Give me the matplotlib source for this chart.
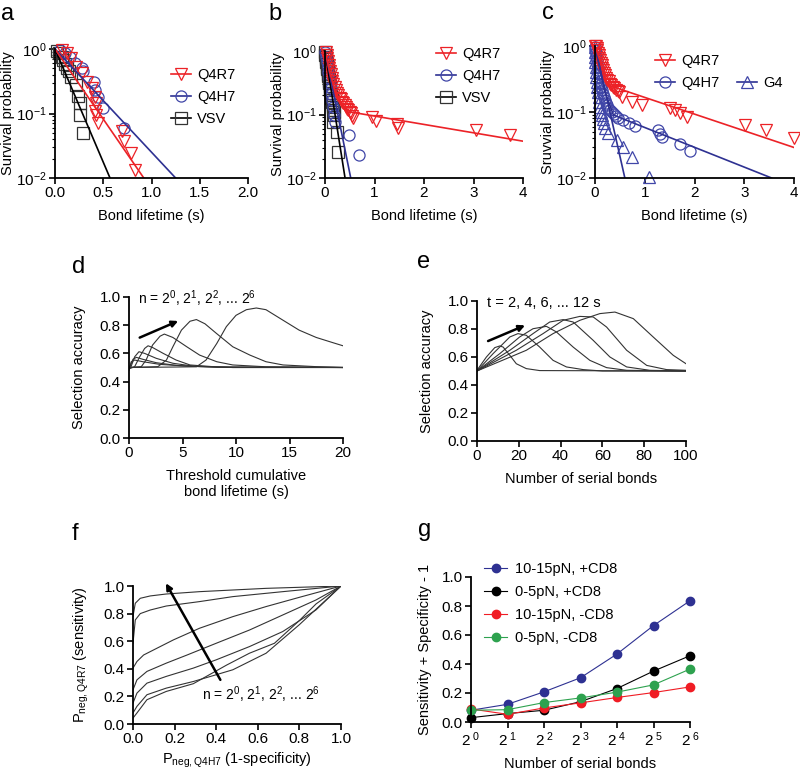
import matplotlib
matplotlib.use("Agg")
import matplotlib.pyplot as plt
import numpy as np
from matplotlib.lines import Line2D

plt.rcParams["font.family"] = ["Liberation Sans", "DejaVu Sans"]
plt.rcParams["mathtext.fontset"] = "custom"
plt.rcParams["mathtext.rm"] = "Liberation Sans"
plt.rcParams["mathtext.it"] = "Liberation Sans:italic"
plt.rcParams["mathtext.bf"] = "Liberation Sans:bold"
plt.rcParams["font.size"] = 10.5
plt.rcParams["xtick.labelsize"] = 11
plt.rcParams["ytick.labelsize"] = 11
plt.rcParams["axes.linewidth"] = 1.3
plt.rcParams["xtick.major.width"] = 1.2
plt.rcParams["ytick.major.width"] = 1.2
plt.rcParams["xtick.major.size"] = 4
plt.rcParams["ytick.major.size"] = 4
plt.rcParams["ytick.minor.size"] = 2.5
plt.rcParams["ytick.minor.width"] = 0.8

RED = "#ec2227"
BLUE = "#2e3192"
BLUE_M = "#4046a8"
GREEN = "#2ea24f"

# ---------------- panel a: survival probability ----------------
a_r7_t = [0.07, 0.12, 0.17, 0.22, 0.28, 0.33, 0.38, 0.41, 0.43, 0.41, 0.43, 0.45, 0.69, 0.72, 0.79, 0.83]
a_r7_p = [0.96, 0.86, 0.72, 0.53, 0.42, 0.31, 0.25, 0.18, 0.145, 0.11, 0.095, 0.07, 0.053, 0.037, 0.024, 0.0135]
a_h7_t = [0.05, 0.10, 0.155, 0.21, 0.28, 0.29, 0.40, 0.41, 0.45, 0.50, 0.71]
a_h7_p = [0.96, 0.88, 0.76, 0.60, 0.50, 0.45, 0.31, 0.23, 0.18, 0.12, 0.059]
a_vsv_t = [0.02, 0.045, 0.07, 0.085, 0.10, 0.12, 0.14, 0.17, 0.22, 0.24, 0.26, 0.26, 0.29]
a_vsv_p = [0.94, 0.86, 0.76, 0.68, 0.59, 0.50, 0.45, 0.37, 0.28, 0.19, 0.145, 0.096, 0.05]
a_fit_r7 = ([0.0, 0.92], [1.0, 0.01])
a_fit_h7 = ([0.0, 1.25], [1.0, 0.01])
a_fit_vsv = ([0.0, 0.57], [1.0, 0.01])

# ---------------- panel b ----------------
b_r7_t = [0.02, 0.035, 0.047, 0.06, 0.074, 0.087, 0.10, 0.118, 0.135, 0.15, 0.169, 0.195, 0.223,
          0.245, 0.27, 0.295, 0.318, 0.345, 0.37, 0.40, 0.426, 0.45, 0.473, 0.50, 0.52, 0.55, 0.574,
          0.94, 1.04, 1.45, 1.48, 3.06, 3.73]
b_r7_p = [0.966, 0.86, 0.77, 0.69, 0.61, 0.54, 0.48, 0.43, 0.38, 0.34, 0.30, 0.27, 0.24,
          0.22, 0.20, 0.185, 0.173, 0.16, 0.15, 0.14, 0.13, 0.122, 0.116, 0.11, 0.104, 0.096, 0.089,
          0.090, 0.078, 0.071, 0.062, 0.056, 0.047]
b_h7_t = [0.01, 0.025, 0.04, 0.055, 0.07, 0.085, 0.10, 0.115, 0.13, 0.15, 0.17, 0.19, 0.20, 0.49, 0.68]
b_h7_p = [0.95, 0.80, 0.66, 0.55, 0.46, 0.38, 0.31, 0.26, 0.21, 0.17, 0.13, 0.10, 0.075, 0.047, 0.023]
b_vsv_t = [0.0, 0.007, 0.0135, 0.02, 0.027, 0.034, 0.041, 0.047, 0.054, 0.061, 0.068, 0.075, 0.081,
           0.088, 0.095, 0.10, 0.108, 0.115, 0.122, 0.128, 0.135, 0.145, 0.155, 0.162, 0.169, 0.176,
           0.182, 0.169, 0.236, 0.27]
b_vsv_p = [0.966, 0.88, 0.81, 0.74, 0.68, 0.62, 0.57, 0.52, 0.48, 0.44, 0.40, 0.37, 0.34,
           0.31, 0.285, 0.26, 0.24, 0.22, 0.20, 0.185, 0.169, 0.155, 0.142, 0.13, 0.119, 0.11,
           0.10, 0.075, 0.053, 0.026]
b_fit_r7 = ([0.0, 0.1, 0.2, 0.35, 0.5, 4.0], [1.0, 0.45, 0.24, 0.14, 0.11, 0.038])
b_fit_h7 = ([0.0, 0.52], [1.0, 0.01])
b_fit_vsv = ([0.0, 0.405], [1.0, 0.01])

# ---------------- panel c ----------------
c_r7_t = [0.0, 0.02, 0.033, 0.047, 0.06, 0.074, 0.087, 0.10, 0.117, 0.134, 0.15, 0.168, 0.185,
          0.20, 0.225, 0.248, 0.275, 0.30, 0.33, 0.356, 0.39, 0.42, 0.455, 0.49,
          0.536, 0.74, 0.94, 1.51, 1.61, 1.71, 1.85, 3.02, 3.43, 4.0]
c_r7_p = [1.0, 0.99, 0.92, 0.86, 0.79, 0.72, 0.66, 0.61, 0.56, 0.51, 0.47, 0.43, 0.39,
          0.36, 0.33, 0.31, 0.29, 0.27, 0.255, 0.24, 0.228, 0.218, 0.208, 0.20,
          0.169, 0.142, 0.126, 0.116, 0.106, 0.097, 0.085, 0.063, 0.053, 0.040]
c_h7_t = [0.0, 0.01, 0.02, 0.03, 0.04, 0.05, 0.06, 0.07, 0.08, 0.09, 0.10, 0.114, 0.128, 0.14,
          0.154, 0.175, 0.195, 0.215, 0.235, 0.265, 0.30, 0.34, 0.38, 0.42, 0.47, 0.57, 0.69, 0.81,
          1.27, 1.31, 1.34, 1.71, 1.91]
c_h7_p = [0.966, 0.87, 0.77, 0.69, 0.61, 0.54, 0.48, 0.43, 0.38, 0.34, 0.30, 0.27, 0.24, 0.215,
          0.19, 0.17, 0.15, 0.137, 0.126, 0.115, 0.106, 0.099, 0.092, 0.087, 0.082, 0.075, 0.067, 0.061,
          0.053, 0.046, 0.042, 0.033, 0.026]
c_g4_t = [0.0, 0.0, 0.003, 0.007, 0.013, 0.02, 0.03, 0.04, 0.05, 0.06, 0.073, 0.087, 0.10, 0.114,
          0.134, 0.154, 0.175, 0.20, 0.27, 0.44, 0.57, 0.74, 1.08]
c_g4_p = [0.966, 0.80, 0.68, 0.57, 0.48, 0.40, 0.34, 0.285, 0.24, 0.20, 0.169, 0.14, 0.119, 0.10,
          0.089, 0.077, 0.067, 0.058, 0.048, 0.038, 0.029, 0.021, 0.0105]
c_fit_r7 = ([0.0, 0.1, 0.2, 0.37, 4.0], [1.0, 0.6, 0.38, 0.24, 0.029])
c_fit_h7 = ([0.0, 0.1, 0.2, 0.37, 3.55], [1.0, 0.45, 0.2, 0.09, 0.01])
c_fit_g4 = ([0.0, 0.6], [1.0, 0.01])

# ---------------- panel d: accuracy vs threshold lifetime, n = 1..64 ----------------
d_t = [
    [0.0, 0.2, 0.53, 1.3, 2.9, 5.4, 8.2, 20],
    [0.03, 0.37, 0.69, 1.3, 2.55, 4.4, 6.6, 9.7, 20],
    [0.16, 0.53, 0.93, 1.46, 2.55, 4.1, 6.0, 9.7, 20],
    [0.0, 0.53, 1.0, 1.46, 1.78, 2.2, 3.2, 4.4, 5.7, 8.2, 20],
    [0.0, 1.15, 1.6, 2.2, 2.9, 3.3, 4.1, 5.4, 6.6, 8.2, 9.7, 12.8, 20],
    [0.0, 2.7, 3.5, 4.1, 4.9, 5.7, 6.3, 7.1, 8.2, 9.7, 11.3, 12.8, 14.4, 17.5, 20],
    [0.0, 6.3, 7.2, 8.2, 9.1, 10.0, 10.97, 11.9, 12.8, 14.4, 15.9, 17.5, 19.1, 20],
]
d_acc = [
    [0.48, 0.54, 0.553, 0.541, 0.522, 0.51, 0.503, 0.5],
    [0.494, 0.558, 0.572, 0.558, 0.534, 0.515, 0.506, 0.5, 0.5],
    [0.5, 0.576, 0.612, 0.6, 0.565, 0.53, 0.51, 0.5, 0.5],
    [0.49, 0.506, 0.576, 0.635, 0.654, 0.642, 0.6, 0.553, 0.518, 0.504, 0.5],
    [0.5, 0.506, 0.553, 0.659, 0.722, 0.737, 0.713, 0.647, 0.588, 0.541, 0.518, 0.505, 0.5],
    [0.5, 0.506, 0.553, 0.647, 0.765, 0.828, 0.84, 0.81, 0.74, 0.647, 0.588, 0.541, 0.518, 0.506, 0.5],
    [0.5, 0.505, 0.553, 0.67, 0.79, 0.87, 0.91, 0.922, 0.91, 0.835, 0.765, 0.713, 0.675, 0.654],
]

# ---------------- panel e: accuracy vs number of serial bonds, t = 2..12 s ----------------
e_n = [
    [0, 4.5, 8.5, 10.9, 12.5, 15.7, 18.8, 23.6, 30, 100],
    [0, 7.7, 15.7, 19.6, 23.6, 30, 36.4, 42.8, 50.8, 60, 100],
    [0, 10.9, 20.4, 26.8, 33.2, 38, 46, 54, 62, 71.6, 100],
    [0, 15.7, 26.8, 34.8, 41.2, 46, 55.6, 63.6, 71.6, 82.7, 100],
    [0, 18.8, 31.6, 41.2, 49.2, 55.6, 62, 71.6, 81.2, 90.7, 100],
    [0, 23.6, 36.4, 49.2, 58.8, 66, 74.8, 84.3, 93.9, 100],
]
e_acc = [
    [0.505, 0.6, 0.667, 0.679, 0.671, 0.612, 0.552, 0.517, 0.503, 0.5],
    [0.5, 0.624, 0.743, 0.767, 0.755, 0.671, 0.576, 0.529, 0.51, 0.5, 0.5],
    [0.5, 0.624, 0.743, 0.802, 0.819, 0.779, 0.671, 0.576, 0.524, 0.505, 0.5],
    [0.5, 0.648, 0.767, 0.85, 0.867, 0.85, 0.719, 0.6, 0.529, 0.505, 0.5],
    [0.5, 0.648, 0.767, 0.862, 0.89, 0.886, 0.814, 0.648, 0.54, 0.51, 0.505],
    [0.5, 0.648, 0.767, 0.862, 0.91, 0.921, 0.874, 0.743, 0.612, 0.552],
]

# ---------------- panel f: ROC curves, n = 1..64 ----------------
f_fpr = [
    [0, 0.019, 0.067, 0.16, 0.29, 0.45, 0.56, 0.68, 0.80, 0.88, 1.0],
    [0, 0.019, 0.067, 0.16, 0.29, 0.40, 0.48, 0.64, 0.80, 1.0],
    [0, 0.019, 0.067, 0.16, 0.29, 0.40, 0.56, 0.72, 0.88, 1.0],
    [0, 0.019, 0.067, 0.16, 0.26, 0.40, 0.56, 0.72, 0.88, 1.0],
    [0, 0.019, 0.051, 0.115, 0.195, 0.32, 0.48, 0.64, 0.80, 1.0],
    [0, 0.011, 0.035, 0.083, 0.16, 0.32, 0.48, 0.72, 1.0],
    [0, 0.011, 0.035, 0.083, 0.16, 0.32, 0.64, 1.0],
]
f_tpr = [
    [0.043, 0.08, 0.176, 0.236, 0.292, 0.427, 0.513, 0.585, 0.75, 0.87, 1.0],
    [0.08, 0.128, 0.212, 0.26, 0.308, 0.357, 0.393, 0.513, 0.72, 1.0],
    [0.152, 0.224, 0.296, 0.345, 0.405, 0.465, 0.561, 0.67, 0.827, 1.0],
    [0.248, 0.32, 0.381, 0.441, 0.5, 0.585, 0.681, 0.79, 0.899, 1.0],
    [0.405, 0.453, 0.5, 0.549, 0.61, 0.694, 0.778, 0.851, 0.918, 1.0],
    [0.585, 0.754, 0.80, 0.826, 0.855, 0.887, 0.923, 0.959, 1.0],
    [0.78, 0.875, 0.911, 0.928, 0.942, 0.959, 0.983, 1.0],
]

# ---------------- panel g ----------------
g_bonds = [1, 2, 4, 8, 16, 32, 64]
g_labels = ["10-15pN, +CD8", "0-5pN, +CD8", "10-15pN, -CD8", "0-5pN, -CD8"]
g_values = [
    [0.081, 0.122, 0.208, 0.305, 0.469, 0.665, 0.836],
    [0.030, 0.058, 0.081, 0.14, 0.231, 0.351, 0.457],
    [0.090, 0.053, 0.097, 0.132, 0.169, 0.203, 0.242],
    [0.081, 0.085, 0.134, 0.166, 0.206, 0.256, 0.365],
]
g_colors = [BLUE, "black", "#f01c24", GREEN]

W, H = 800, 774
fig = plt.figure(figsize=(W / 100, H / 100), dpi=100)


def px_axes(left, top, right, bottom):
    ax = fig.add_axes([left / W, 1 - bottom / H, (right - left) / W, (bottom - top) / H])
    ax.spines["top"].set_visible(False)
    ax.spines["right"].set_visible(False)
    ax.tick_params(direction="out", pad=2)
    return ax


def survival_axes(ax, xmax, xticks, ylabel):
    ax.set_yscale("log")
    ax.set_ylim(0.01, 1.0)
    ax.set_xlim(0, xmax)
    ax.set_xticks(xticks)
    ax.set_xlabel("Bond lifetime (s)", labelpad=6)
    ax.set_ylabel(ylabel, labelpad=1)


def pts(ax, t, p, marker, color):
    ax.plot(t, p, linestyle="none", marker=marker, mfc="none", mec=color, ms=8, mew=0.9, clip_on=False)


def handle(marker, mcolor, lcolor):
    return Line2D([], [], color=lcolor, lw=1.2, marker=marker, mfc="none", mec=mcolor, ms=8, mew=0.9)


# a
ax = px_axes(55, 49, 248, 178)
pts(ax, a_vsv_t, a_vsv_p, "s", "#333333")
pts(ax, a_h7_t, a_h7_p, "o", BLUE_M)
pts(ax, a_r7_t, a_r7_p, "v", RED)
ax.plot(*a_fit_vsv, color="black", lw=1.2)
ax.plot(*a_fit_h7, color=BLUE, lw=1.2)
ax.plot(*a_fit_r7, color=RED, lw=1.2)
survival_axes(ax, 2.0, [0.0, 0.5, 1.0, 1.5, 2.0], "Survival probability")
ax.xaxis.set_major_formatter(matplotlib.ticker.FormatStrFormatter("%.1f"))
ax.legend([handle("v", RED, RED), handle("o", BLUE_M, BLUE), handle("s", "#333333", "black")],
          ["Q4R7", "Q4H7", "VSV"], loc="upper left", bbox_to_anchor=(0.6, 0.85),
          frameon=False, handlelength=1.4, handletextpad=0.4, borderpad=0, borderaxespad=0,
          labelspacing=0.55, fontsize=10.5)

# b
ax = px_axes(325, 51, 523, 178)
pts(ax, b_vsv_t, b_vsv_p, "s", "#333333")
pts(ax, b_h7_t, b_h7_p, "o", BLUE_M)
pts(ax, b_r7_t, b_r7_p, "v", RED)
ax.plot(*b_fit_vsv, color="black", lw=1.2)
ax.plot(*b_fit_h7, color=BLUE, lw=1.2)
ax.plot(*b_fit_r7, color=RED, lw=1.2)
survival_axes(ax, 4, [0, 1, 2, 3, 4], "Survival probability")
ax.legend([handle("v", RED, RED), handle("o", BLUE_M, BLUE), handle("s", "#333333", "black")],
          ["Q4R7", "Q4H7", "VSV"], loc="upper left", bbox_to_anchor=(0.56, 1.03),
          frameon=False, handlelength=1.4, handletextpad=0.4, borderpad=0, borderaxespad=0,
          labelspacing=0.55, fontsize=10.5)

# c
ax = px_axes(595, 46, 794, 178)
pts(ax, c_g4_t, c_g4_p, "^", BLUE_M)
pts(ax, c_h7_t, c_h7_p, "o", BLUE_M)
pts(ax, c_r7_t, c_r7_p, "v", RED)
ax.plot(*c_fit_g4, color=BLUE, lw=1.2)
ax.plot(*c_fit_h7, color=BLUE, lw=1.2)
ax.plot(*c_fit_r7, color=RED, lw=1.2)
survival_axes(ax, 4, [0, 1, 2, 3, 4], "Sruvvial probability")
blank = Line2D([], [], linestyle="none")
ax.legend([handle("v", RED, RED), handle("o", BLUE_M, BLUE), blank, handle("^", BLUE_M, BLUE)],
          ["Q4R7", "Q4H7", "", "G4"], ncol=2, loc="upper left", bbox_to_anchor=(0.3, 0.94),
          frameon=False, handlelength=1.4, handletextpad=0.4, borderpad=0, borderaxespad=0,
          labelspacing=0.55, columnspacing=1.2, fontsize=10.5)

# d
ax = px_axes(129, 297, 343, 438)
for t, acc in zip(d_t, d_acc):
    ax.plot(t, acc, color="#333333", lw=0.8)
ax.set_xlim(0, 20)
ax.set_ylim(0, 1.0)
ax.set_xticks([0, 5, 10, 15, 20])
ax.set_yticks(np.arange(0, 1.01, 0.2))
ax.yaxis.set_major_formatter(matplotlib.ticker.FormatStrFormatter("%.1f"))
ax.set_xlabel("Threshold cumulative\nbond lifetime (s)", labelpad=6)
ax.set_ylabel("Selection accuracy", labelpad=10)
ax.text(0.85, 0.985, r"n = 2$^{0}$, 2$^{1}$, 2$^{2}$, ... 2$^{6}$", fontsize=10, va="center")
ax.annotate("", xy=(4.6, 0.83), xytext=(1.0, 0.712),
            arrowprops=dict(arrowstyle="-|>", lw=1.8, color="black", mutation_scale=9, shrinkA=0, shrinkB=0))

# e
ax = px_axes(477, 301, 686, 441)
for n, acc in zip(e_n, e_acc):
    ax.plot(n, acc, color="#333333", lw=0.8)
ax.set_xlim(0, 100)
ax.set_ylim(0, 1.0)
ax.set_xticks([0, 20, 40, 60, 80, 100])
ax.set_yticks(np.arange(0, 1.01, 0.2))
ax.yaxis.set_major_formatter(matplotlib.ticker.FormatStrFormatter("%.1f"))
ax.set_xlabel("Number of serial bonds", labelpad=6)
ax.set_ylabel("Selection accuracy", labelpad=10)
ax.text(4.8, 0.985, "t = 2, 4, 6, ... 12 s", fontsize=10.5, va="center")
ax.annotate("", xy=(23, 0.826), xytext=(5.3, 0.714),
            arrowprops=dict(arrowstyle="-|>", lw=1.8, color="black", mutation_scale=9, shrinkA=0, shrinkB=0))

# f
ax = px_axes(133, 586, 341, 724)
for fpr, tpr in zip(f_fpr, f_tpr):
    ax.plot(fpr, tpr, color="#333333", lw=0.8)
ax.set_xlim(0, 1.0)
ax.set_ylim(0, 1.0)
ax.set_xticks(np.arange(0, 1.01, 0.2))
ax.set_yticks(np.arange(0, 1.01, 0.2))
ax.xaxis.set_major_formatter(matplotlib.ticker.FormatStrFormatter("%.1f"))
ax.yaxis.set_major_formatter(matplotlib.ticker.FormatStrFormatter("%.1f"))
ax.set_xlabel(r"P$_{\mathregular{neg,Q4H7}}$ (1-specificity)", labelpad=3)
ax.set_ylabel(r"P$_{\mathregular{neg,Q4R7}}$ (sensitivity)", labelpad=9)
ax.text(0.33, 0.21, r"n = 2$^{0}$, 2$^{1}$, 2$^{2}$, ... 2$^{6}$", fontsize=10, va="center")
ax.annotate("", xy=(0.158, 1.02), xytext=(0.42, 0.32),
            arrowprops=dict(arrowstyle="-|>", lw=1.8, color="black", mutation_scale=9, shrinkA=0, shrinkB=0),
            annotation_clip=False)

# g
ax = px_axes(471, 577, 690, 722)
xg = np.log2(g_bonds)
for vals, lab, col in zip(g_values, g_labels, g_colors):
    ax.plot(xg, vals, color=col, lw=0.8, marker="o", ms=6, mec=col, mfc=col, label=lab, clip_on=False)
ax.set_xlim(0, 6)
ax.set_ylim(0, 1.0)
ax.set_xticks(xg)
ax.set_xticklabels([r"2$^{\ %d}$" % int(v) for v in xg])
ax.set_yticks(np.arange(0, 1.01, 0.2))
ax.yaxis.set_major_formatter(matplotlib.ticker.FormatStrFormatter("%.1f"))
ax.set_xlabel("Number of serial bonds", labelpad=6)
ax.set_ylabel("Sensitivity + Specificity - 1", labelpad=7)
ax.legend(loc="upper left", bbox_to_anchor=(0.06, 1.1), frameon=False, handlelength=1.6,
          handletextpad=0.5, borderpad=0, borderaxespad=0, labelspacing=0.6, fontsize=10.5)

# panel letters
for letter, x, y in [("a", 1, 20), ("b", 268, 20), ("c", 542, 19), ("d", 72, 273),
                     ("e", 417, 268), ("f", 72, 540), ("g", 418, 536)]:
    fig.text(x / W, 1 - y / H, letter, fontsize=17, va="baseline", ha="left")

fig.savefig("out.png", dpi=100)
